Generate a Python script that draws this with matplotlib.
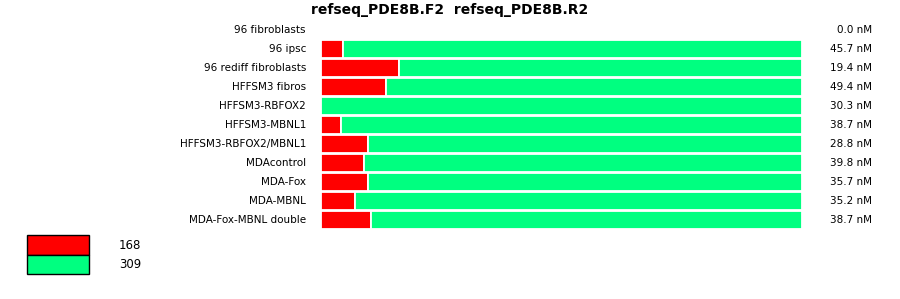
import matplotlib
matplotlib.use("Agg")
import matplotlib.pyplot as plt
from matplotlib.patches import Rectangle

title = "refseq_PDE8B.F2  refseq_PDE8B.R2"
samples = ["96 fibroblasts", "96 ipsc", "96 rediff fibroblasts", "HFFSM3 fibros",
           "HFFSM3-RBFOX2", "HFFSM3-MBNL1", "HFFSM3-RBFOX2/MBNL1", "MDAcontrol",
           "MDA-Fox", "MDA-MBNL", "MDA-Fox-MBNL double"]
red_frac = [0.0, 0.046, 0.162, 0.135, 0.0, 0.042, 0.098, 0.090, 0.098, 0.071, 0.104]
green_frac = [0.0, 0.954, 0.838, 0.865, 1.0, 0.958, 0.902, 0.910, 0.902, 0.929, 0.896]
conc = ["0.0 nM", "45.7 nM", "19.4 nM", "49.4 nM", "30.3 nM", "38.7 nM",
        "28.8 nM", "39.8 nM", "35.7 nM", "35.2 nM", "38.7 nM"]
legend_labels = ["168", "309"]
colors = ["#ff0000", "#00ff80"]

W, H = 900, 299
fig = plt.figure(figsize=(W / 100, H / 100), dpi=100)
ax = fig.add_axes([321 / W, 1 - 229.5 / H, 481 / W, 209 / H])

ys = list(range(len(samples)))
for y, r, g in zip(ys, red_frac, green_frac):
    if r > 0:
        ax.barh(y, r, left=0, height=0.95, color=colors[0], edgecolor="white", linewidth=1.3)
    if g > 0:
        ax.barh(y, g, left=r, height=0.95, color=colors[1], edgecolor="white", linewidth=1.3)

ax.set_xlim(0, 1)
ax.set_ylim(len(samples) - 0.5, -0.5)
ax.axis("off")

for y, s, c in zip(ys, samples, conc):
    ax.text(-15 / 481, y, s, ha="right", va="center", fontsize=7.5, family="DejaVu Sans")
    ax.text(551 / 481, y, c, ha="right", va="center", fontsize=7.5, family="DejaVu Sans")

fig.text(0.5, 1 - 10 / H, title, ha="center", va="center", fontsize=10, fontweight="semibold")

# legend
for i, (lab, col) in enumerate(zip(legend_labels, colors)):
    top = 235 + i * 19.5
    fig.patches.append(Rectangle((27 / W, 1 - (top + 19.5) / H), 62 / W, 19.5 / H,
                                 transform=fig.transFigure, facecolor=col,
                                 edgecolor="black", linewidth=1.0))
    fig.text(119 / W, 1 - (top + 10.5) / H, lab, ha="left", va="center", fontsize=8.5)

fig.savefig("out.png", dpi=100)
